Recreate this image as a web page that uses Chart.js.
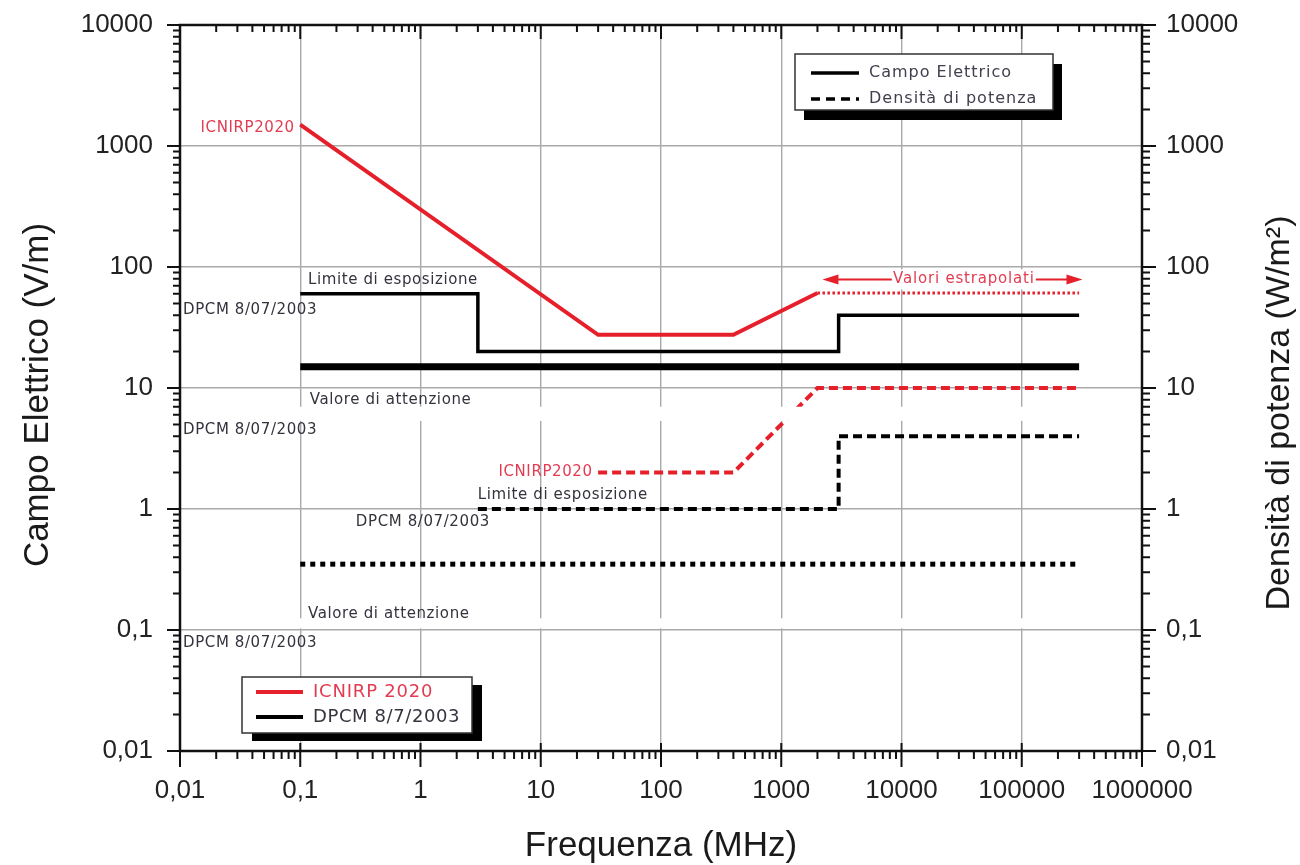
<!DOCTYPE html>
<html>
<head>
<meta charset="utf-8">
<script src="https://cdn.jsdelivr.net/npm/chart.js@4.4.1/dist/chart.umd.min.js"></script>
<style>
  html, body { margin: 0; padding: 0; background: #fff; }
  canvas { display: block; }
</style>
</head>
<body>
<canvas id="myChart" width="1300" height="865"></canvas>
<script>
// axis ticks (frequency in MHz, field in V/m, density in W/m2)
const xTicks = [0.01, 0.1, 1, 10, 100, 1000, 10000, 100000, 1000000];
const xTickLabels = ['0,01', '0,1', '1', '10', '100', '1000', '10000', '100000', '1000000'];
const yTicks = [0.01, 0.1, 1, 10, 100, 1000, 10000];
const yTickLabels = ['0,01', '0,1', '1', '10', '100', '1000', '10000'];

// electric field
const icnirpFieldFreq = [0.1, 30, 400, 2000];
const icnirpFieldVal = [1500, 27.5, 27.5, 61];
const icnirpExtrapFreq = [2000, 300000];
const icnirpExtrapVal = [61, 61];
const dpcmLimitFreq = [0.1, 3, 3, 3000, 3000, 300000];
const dpcmLimitVal = [60, 60, 20, 20, 40, 40];
const dpcmAttentionFreq = [0.1, 300000];
const dpcmAttentionVal = [15, 15];

// power density
const icnirpDensFreq = [30, 400, 2000, 300000];
const icnirpDensVal = [2, 2, 10, 10];
const dpcmDensLimitFreq = [3, 3000, 3000, 300000];
const dpcmDensLimitVal = [1, 1, 4, 4];
const dpcmDensAttentionFreq = [0.1, 300000];
const dpcmDensAttentionVal = [0.35, 0.35];

// "Valori estrapolati" arrow
const extrapArrowFreq = [2200, 320000];
const extrapArrowVal = 79;
const extrapLabelFreq = 33000;

// blank strips left over in the original picture (freq from/to, value from/to)
const blankStrips = [
  [0.09, 300000, 7.0, 5.35],
  [0.095, 300000, 0.125, 0.103]
];

const legendStyleLabels = ['Campo Elettrico', 'Densità di potenza'];
const legendSourceLabels = ['ICNIRP 2020', 'DPCM 8/7/2003'];

const RED = '#e5202b';
const RED_TEXT = '#e23c52';
const NOTE_TEXT = '#34333d';

// text notes anchored in data space
const notes = [
  { text: 'ICNIRP2020', f: 0.09, v: 1400, align: 'right', red: true },
  { text: 'Limite di esposizione', f: 0.116, v: 78, align: 'left' },
  { text: 'DPCM 8/07/2003', f: 0.0106, v: 44, align: 'left' },
  { text: 'Valore di attenzione', f: 0.12, v: 8.0, align: 'left' },
  { text: 'DPCM 8/07/2003', f: 0.0106, v: 4.5, align: 'left' },
  { text: 'ICNIRP2020', f: 27, v: 2.0, align: 'right', red: true },
  { text: 'Limite di esposizione', f: 3, v: 1.31, align: 'left' },
  { text: 'DPCM 8/07/2003', f: 0.29, v: 0.78, align: 'left' },
  { text: 'Valore di attenzione', f: 0.116, v: 0.135, align: 'left' },
  { text: 'DPCM 8/07/2003', f: 0.0106, v: 0.078, align: 'left' }
];

const pts = (xs, ys) => xs.map((x, i) => ({ x: x, y: ys[i] }));

function line(data, color, width, dash) {
  return {
    data: data,
    borderColor: color,
    borderWidth: width,
    borderDash: dash || [],
    pointRadius: 0,
    tension: 0,
    fill: false,
    borderCapStyle: 'butt',
    borderJoinStyle: 'miter'
  };
}

function decadeValues(min, max) {
  const out = [];
  const e0 = Math.round(Math.log10(min)), e1 = Math.round(Math.log10(max));
  for (let e = e0; e <= e1; e++) {
    for (let m = 1; m <= 9; m++) {
      const v = m * Math.pow(10, e);
      if (v >= min * 0.999 && v <= max * 1.001) out.push({ v: v, major: m === 1 });
    }
  }
  return out;
}

function drawText(ctx, text, x, y, font, color, align, spacing) {
  ctx.save();
  ctx.font = font;
  ctx.fillStyle = color;
  ctx.textBaseline = 'middle';
  ctx.textAlign = align || 'left';
  ctx.letterSpacing = (spacing || 0) + 'px';
  ctx.fillText(text, x, y);
  ctx.restore();
}

function drawLegendBox(ctx, x, y, w, h, sx, sy) {
  ctx.fillStyle = '#000';
  ctx.fillRect(x + sx, y + sy, w, h);
  ctx.fillStyle = '#fff';
  ctx.fillRect(x, y, w, h);
  ctx.strokeStyle = '#333';
  ctx.lineWidth = 1.5;
  ctx.strokeRect(x, y, w, h);
}

function sample(ctx, x1, x2, y, color, width, dash) {
  ctx.save();
  ctx.strokeStyle = color;
  ctx.lineWidth = width;
  ctx.setLineDash(dash || []);
  ctx.beginPath();
  ctx.moveTo(x1, y);
  ctx.lineTo(x2, y);
  ctx.stroke();
  ctx.restore();
}

const decorations = {
  id: 'decorations',
  afterDatasetsDraw(chart) {
    const ctx = chart.ctx;
    const a = chart.chartArea;
    const xs = chart.scales.x, ys = chart.scales.y;

    // blank strips
    ctx.save();
    ctx.fillStyle = '#fff';
    blankStrips.forEach(s => {
      const x1 = xs.getPixelForValue(s[0]), x2 = xs.getPixelForValue(s[1]);
      const y1 = ys.getPixelForValue(s[2]), y2 = ys.getPixelForValue(s[3]);
      ctx.fillRect(x1, y1, x2 - x1, y2 - y1);
    });
    ctx.restore();

    // frame and ticks
    ctx.save();
    ctx.strokeStyle = '#111';
    ctx.lineWidth = 2;
    decadeValues(xs.min, xs.max).forEach(t => {
      const px = xs.getPixelForValue(t.v);
      ctx.beginPath();
      if (t.major) { ctx.moveTo(px, a.bottom - 8); ctx.lineTo(px, a.bottom + 16); }
      else { ctx.moveTo(px, a.bottom); ctx.lineTo(px, a.bottom + 8); }
      ctx.moveTo(px, a.top);
      ctx.lineTo(px, a.top + (t.major ? 14 : 7));
      ctx.stroke();
    });
    decadeValues(ys.min, ys.max).forEach(t => {
      const py = ys.getPixelForValue(t.v);
      ctx.beginPath();
      ctx.moveTo(a.left - (t.major ? 13 : 7), py);
      ctx.lineTo(a.left, py);
      ctx.moveTo(a.right, py);
      ctx.lineTo(a.right + (t.major ? 14 : 8), py);
      ctx.stroke();
    });
    ctx.lineWidth = 2.5;
    ctx.strokeRect(a.left, a.top, a.right - a.left, a.bottom - a.top);
    ctx.restore();

    // axis titles
    const titleFont = '35px "Liberation Sans", Arial, sans-serif';
    drawText(ctx, 'Frequenza (MHz)', (a.left + a.right) / 2, 846, titleFont, '#1a1a1a', 'center');
    ctx.save();
    ctx.translate(38, 395);
    ctx.rotate(-Math.PI / 2);
    drawText(ctx, 'Campo Elettrico (V/m)', 0, 0, titleFont, '#1a1a1a', 'center');
    ctx.restore();
    ctx.save();
    ctx.translate(1280, 413);
    ctx.rotate(-Math.PI / 2);
    drawText(ctx, 'Densità di potenza (W/m²)', 0, 0, '34px "Liberation Sans", Arial, sans-serif', '#1a1a1a', 'center');
    ctx.restore();

    // notes
    const noteFont = '15px "DejaVu Sans", sans-serif';
    notes.forEach(n => {
      drawText(ctx, n.text, xs.getPixelForValue(n.f), ys.getPixelForValue(n.v), noteFont,
        n.red ? RED_TEXT : NOTE_TEXT, n.align, 0.6);
    });

    // extrapolated arrow
    const ay = ys.getPixelForValue(extrapArrowVal);
    const ax1 = xs.getPixelForValue(extrapArrowFreq[0]);
    const ax2 = xs.getPixelForValue(extrapArrowFreq[1]);
    ctx.save();
    ctx.strokeStyle = RED;
    ctx.fillStyle = RED;
    ctx.lineWidth = 2;
    ctx.beginPath();
    ctx.moveTo(ax1 + 10, ay);
    ctx.lineTo(ax2 - 10, ay);
    ctx.stroke();
    ctx.beginPath();
    ctx.moveTo(ax1, ay); ctx.lineTo(ax1 + 16, ay - 5); ctx.lineTo(ax1 + 16, ay + 5); ctx.closePath();
    ctx.moveTo(ax2, ay); ctx.lineTo(ax2 - 16, ay - 5); ctx.lineTo(ax2 - 16, ay + 5); ctx.closePath();
    ctx.fill();
    const lx = xs.getPixelForValue(extrapLabelFreq);
    ctx.fillStyle = '#fff';
    ctx.fillRect(lx - 72, ay - 10, 144, 20);
    ctx.restore();
    drawText(ctx, 'Valori estrapolati', lx, ay, noteFont, RED_TEXT, 'center', 0.8);

    // legend: line styles
    drawLegendBox(ctx, 795, 54, 258, 56, 9, 10);
    sample(ctx, 811, 859, 73, '#000', 3.5);
    sample(ctx, 811, 859, 99, '#000', 3.5, [9, 6]);
    const legFont = '16px "DejaVu Sans", sans-serif';
    drawText(ctx, legendStyleLabels[0], 869, 73, legFont, '#403f4d', 'left', 1);
    drawText(ctx, legendStyleLabels[1], 869, 99, legFont, '#403f4d', 'left', 1);

    // legend: sources
    drawLegendBox(ctx, 242, 677, 230, 56, 10, 8);
    sample(ctx, 256, 303, 692, RED, 4);
    sample(ctx, 256, 303, 717, '#000', 4);
    const legFont2 = '18px "DejaVu Sans", sans-serif';
    drawText(ctx, legendSourceLabels[0], 313, 692, legFont2, RED_TEXT, 'left', 0.8);
    drawText(ctx, legendSourceLabels[1], 313, 717, legFont2, '#35343f', 'left', 0.6);
  }
};

const tickFont = { family: '"Liberation Sans", Arial, sans-serif', size: 26 };

new Chart(document.getElementById('myChart').getContext('2d'), {
  type: 'line',
  data: {
    datasets: [
      line(pts(dpcmAttentionFreq, dpcmAttentionVal), '#000', 7),
      line(pts(dpcmLimitFreq, dpcmLimitVal), '#000', 3.5),
      line(pts(icnirpFieldFreq, icnirpFieldVal), RED, 4),
      line(pts(icnirpExtrapFreq, icnirpExtrapVal), RED, 3, [2.5, 2.5]),
      line(pts(dpcmDensAttentionFreq, dpcmDensAttentionVal), '#000', 5, [5, 5]),
      line(pts(dpcmDensLimitFreq, dpcmDensLimitVal), '#000', 4, [9, 5]),
      line(pts(icnirpDensFreq, icnirpDensVal), RED, 4, [9, 5])
    ]
  },
  options: {
    responsive: false,
    devicePixelRatio: 1,
    animation: false,
    layout: { padding: { top: 25, left: 0, right: 0, bottom: 0 } },
    plugins: { legend: { display: false }, tooltip: { enabled: false } },
    scales: {
      x: {
        type: 'logarithmic',
        min: 0.01,
        max: 1000000,
        afterBuildTicks: s => { s.ticks = xTicks.map(v => ({ value: v })); },
        afterFit: s => { s.height = 114; s.paddingLeft = 0; s.paddingRight = 0; },
        grid: { color: '#a9a9a9', lineWidth: 1.4, drawTicks: false },
        border: { display: false },
        ticks: {
          autoSkip: false, maxRotation: 0, padding: 24, color: '#222', font: tickFont,
          callback: (v, i) => xTickLabels[i]
        }
      },
      y: {
        type: 'logarithmic',
        position: 'left',
        min: 0.01,
        max: 10000,
        afterBuildTicks: s => { s.ticks = yTicks.map(v => ({ value: v })); },
        afterFit: s => { s.width = 180; s.paddingTop = 0; s.paddingBottom = 0; },
        grid: { color: '#a9a9a9', lineWidth: 1.4, drawTicks: false },
        border: { display: false },
        ticks: {
          autoSkip: false, padding: 27, color: '#222', font: tickFont,
          callback: (v, i) => yTickLabels[i]
        }
      },
      y2: {
        type: 'logarithmic',
        position: 'right',
        min: 0.01,
        max: 10000,
        afterBuildTicks: s => { s.ticks = yTicks.map(v => ({ value: v })); },
        afterFit: s => { s.width = 158; s.paddingTop = 0; s.paddingBottom = 0; },
        grid: { display: false, drawTicks: false },
        border: { display: false },
        ticks: {
          autoSkip: false, padding: 24, color: '#222', font: tickFont,
          callback: (v, i) => yTickLabels[i]
        }
      }
    }
  },
  plugins: [decorations]
});
</script>
</body>
</html>
